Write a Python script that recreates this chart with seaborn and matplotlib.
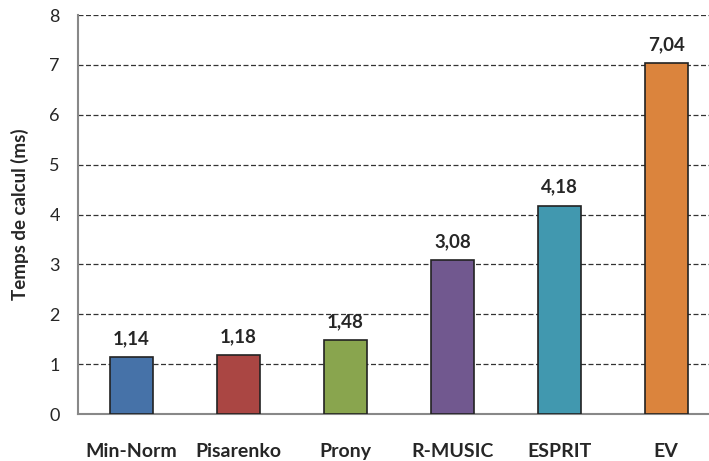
import matplotlib
matplotlib.use("Agg")
import matplotlib.pyplot as plt
import seaborn as sns
import pandas as pd

methods = ["Min-Norm", "Pisarenko", "Prony", "R-MUSIC", "ESPRIT", "EV"]
times_ms = [1.14, 1.18, 1.48, 3.08, 4.18, 7.04]
value_labels = ["1,14", "1,18", "1,48", "3,08", "4,18", "7,04"]
colors = ["#4672A8", "#AA4643", "#89A54E", "#71588F", "#4198AF", "#DB843D"]

sns.set_style("white")
plt.rcParams["font.family"] = ["Lato", "DejaVu Sans"]

df = pd.DataFrame({"method": methods, "time": times_ms})

fig = plt.figure(figsize=(7.09, 4.61), dpi=100)
ax = fig.add_axes([78 / 709, 47 / 461, (709 - 78) / 709, (414 - 15) / 461])

sns.barplot(data=df, x="method", y="time", hue="method", palette=colors,
            width=0.4, edgecolor="#222222", linewidth=1.2, legend=False,
            saturation=1, ax=ax, zorder=3)

ax.set_ylim(0, 8)
ax.set_xlim(-0.5, 5.4)
ax.set_yticks(range(0, 9))
ax.yaxis.grid(True, linestyle=(0, (4, 2)), color="#333333", linewidth=0.9)
ax.set_axisbelow(True)

for s in ["top", "right"]:
    ax.spines[s].set_visible(False)
for s in ["left", "bottom"]:
    ax.spines[s].set_color("#888888")
    ax.spines[s].set_linewidth(1.5)

ax.tick_params(axis="y", length=5, width=1, color="#888888", labelsize=13, pad=8)
ax.tick_params(axis="x", length=0, labelsize=14, pad=21)
for lbl in ax.get_xticklabels():
    lbl.set_fontweight("bold")

ax.set_xlabel("")
ax.set_ylabel("Temps de calcul (ms)", fontsize=13.5, fontweight="bold", labelpad=15)

for i, (v, txt) in enumerate(zip(times_ms, value_labels)):
    ax.text(i, v + 0.2, txt, ha="center", va="bottom", fontsize=13.5, fontweight="bold")

fig.savefig("out.png", dpi=100)
